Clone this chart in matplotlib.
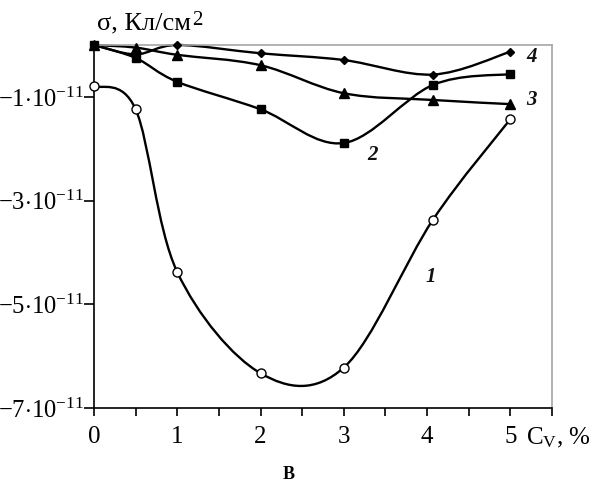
import numpy as np
import matplotlib
matplotlib.use("Agg")
import matplotlib.pyplot as plt
from matplotlib.path import Path
from matplotlib.patches import PathPatch

plt.rcParams['font.family'] = ['Liberation Serif', 'DejaVu Serif']
plt.rcParams['mathtext.fontset'] = 'custom'
plt.rcParams['mathtext.rm'] = 'Liberation Serif'
plt.rcParams['mathtext.it'] = 'Liberation Serif:italic'
plt.rcParams['mathtext.bf'] = 'Liberation Serif:bold'

# ---- data (sigma in units of 1e-11 C/cm^2, negative values) ----
cv = [0, 0.5, 1, 2, 3, 4.07, 5]
s1 = [-0.79, -1.24, -4.38, -6.33, -6.22, -3.37, -1.43]
s2 = [0, -0.25, -0.71, -1.24, -1.89, -0.77, -0.56]
s3 = [0, -0.05, -0.19, -0.39, -0.93, -1.06, -1.14]
s4 = [0, -0.18, 0.0, -0.16, -0.29, -0.57, -0.13]

ytick_vals = [-1, -3, -5, -7]
ytick_labels = [r'$\mathrm{-1{\cdot}10^{-11}}$', r'$\mathrm{-3{\cdot}10^{-11}}$',
                r'$\mathrm{-5{\cdot}10^{-11}}$', r'$\mathrm{-7{\cdot}10^{-11}}$']
xtick_vals = [0, 1, 2, 3, 4, 5]

W, H = 594, 483
fig = plt.figure(figsize=(W / 100, H / 100), dpi=100)
ax = fig.add_axes([94 / W, 1 - 408 / H, (552 - 94) / W, (408 - 45) / H])
ax.set_xlim(0, 5.5)
ax.set_ylim(-7, 0)


def smooth(x, y):
    x = np.asarray(x, float); y = np.asarray(y, float)
    P = np.column_stack([x, y])
    verts = [P[0]]
    codes = [Path.MOVETO]
    for i in range(len(P) - 1):
        p0 = P[i - 1] if i > 0 else P[i]
        p1 = P[i]
        p2 = P[i + 1]
        p3 = P[i + 2] if i + 2 < len(P) else P[i + 1]
        c1 = p1 + (p2 - p0) / 6
        c2 = p2 - (p3 - p1) / 6
        verts += [c1, c2, p2]
        codes += [Path.CURVE4] * 3
    return Path(verts, codes)


series = [
    (s1, dict(marker='o', ms=6.5, mfc='white', mec='black', mew=1.0)),
    (s2, dict(marker='s', ms=6, mfc='black', mec='black')),
    (s3, dict(marker='^', ms=7, mfc='black', mec='black')),
    (s4, dict(marker='D', ms=4, mfc='black', mec='black')),
]
for ys, mk in series:
    ax.add_patch(PathPatch(smooth(cv, ys), fill=False, lw=1.7, ec='black',
                           zorder=2, clip_on=False))
    ax.plot(cv, ys, ls='none', zorder=3, clip_on=False, **mk)

# curve numbers
lab_style = dict(fontsize=15, fontweight='bold', fontstyle='italic',
                 ha='center', va='center', color='#111111')
ax.text(4.05, -4.48, '1', **lab_style)
ax.text(3.35, -2.13, '2', **lab_style)
ax.text(5.25, -1.06, '3', **lab_style)
ax.text(5.26, -0.23, '4', **lab_style)

# axes styling
for s in ['top', 'right']:
    ax.spines[s].set_color('#a6a6a6')
    ax.spines[s].set_linewidth(1.2)
for s in ['left', 'bottom']:
    ax.spines[s].set_color('black')
    ax.spines[s].set_linewidth(1.2)

ax.set_xticks(xtick_vals)
ax.set_xticks(np.arange(0.5, 5.6, 1.0), minor=True)
ax.set_xticklabels([str(v) for v in xtick_vals], fontsize=18)
ax.tick_params(axis='x', which='both', direction='out', length=6, width=1.2,
               pad=7)
ax.set_yticks(ytick_vals)
ax.set_yticklabels(ytick_labels, fontsize=17.7)
ax.tick_params(axis='y', direction='out', length=7, width=1.2, pad=0)

# axis titles
fig.text(97 / W, 1 - 29 / H, 'σ, Кл/см', fontsize=19, ha='left',
         va='baseline')
fig.text(192 / W, 1 - 25 / H, '2', fontsize=15, ha='left', va='baseline')
fig.text(526 / W, 1 - 444 / H, r'C$_\mathrm{V}$, %', fontsize=18,
         ha='left', va='baseline')
fig.text(289 / W, 1 - 479 / H, 'В', fontsize=13, fontweight='bold',
         ha='center', va='baseline')

fig.savefig('out.png', dpi=100)
